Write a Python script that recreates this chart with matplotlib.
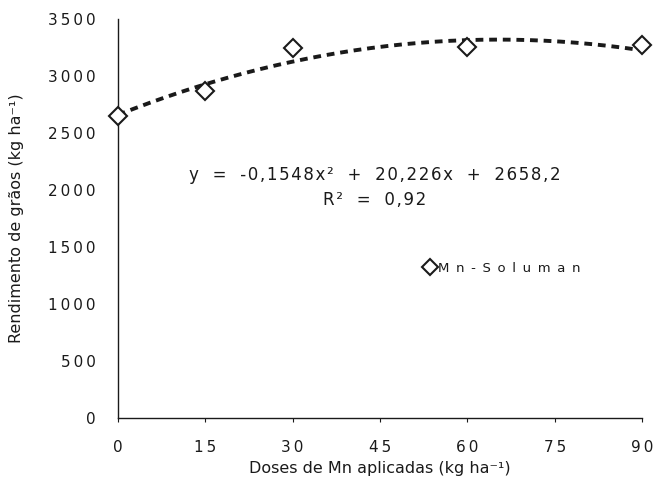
import numpy as np
import matplotlib.pyplot as plt

plt.rcParams['font.family'] = ['DejaVu Sans']

# Mn doses (kg/ha) and grain yield (kg/ha)
doses = [0, 15, 30, 60, 90]
rendimento = [2650, 2870, 3245, 3255, 3275]

# quadratic fit coefficients
a, b, c = -0.1548, 20.226, 2658.2

x_ticks = [0, 15, 30, 45, 60, 75, 90]
y_ticks = [0, 500, 1000, 1500, 2000, 2500, 3000, 3500]

ink = '#1a1a1a'


def spaced(s, gap='\u200a'):
    # loose letter spacing like the printed figure
    return gap.join(s)


fig = plt.figure(figsize=(6.58, 4.86), dpi=100)
ax = fig.add_axes([0.179, 0.140, 0.797, 0.821])

xf = np.linspace(0, 90, 200)
ax.plot(xf, a * xf**2 + b * xf + c, color=ink, lw=2.8, ls=(0, (2.0, 1.5)),
        zorder=2, clip_on=False)
ax.plot(doses, rendimento, ls='none', marker='D', ms=9, mfc='white',
        mec=ink, mew=1.5, clip_on=False, zorder=3, label='Mn-Soluman')

ax.set_xlim(0, 90)
ax.set_ylim(0, 3500)
ax.set_xticks(x_ticks)
ax.set_xticklabels([spaced(str(v), '\u2009') for v in x_ticks])
ax.set_yticks(y_ticks)
ax.set_yticklabels([spaced(str(v), '\u2009') for v in y_ticks])
ax.tick_params(axis='y', length=0, pad=16, labelsize=11, colors=ink)
ax.tick_params(axis='x', direction='out', length=3, width=0.8, pad=13,
               labelsize=11, colors=ink)

for side in ['top', 'right']:
    ax.spines[side].set_visible(False)
for side in ['left', 'bottom']:
    ax.spines[side].set_color(ink)
    ax.spines[side].set_linewidth(1.0)

ax.set_xlabel('Doses de Mn aplicadas (kg ha\u207b\u00b9)', fontsize=11.5,
              color=ink, labelpad=4)
ax.set_ylabel('Rendimento de grãos (kg ha\u207b\u00b9)', fontsize=11.5,
              color=ink, labelpad=17)

ax.text(0.49, 0.61, spaced('y = -0,1548x\u00b2 + 20,226x + 2658,2').replace(' ', '  '),
        transform=ax.transAxes, ha='center', va='center', fontsize=12,
        color=ink)
ax.text(0.49, 0.547, spaced('R\u00b2 = 0,92').replace(' ', '  '),
        transform=ax.transAxes, ha='center', va='center', fontsize=12,
        color=ink)

leg = ax.legend(loc='center left', bbox_to_anchor=(0.575, 0.375), frameon=False,
                handlelength=0.8, handletextpad=0.2, fontsize=9.5,
                borderaxespad=0)
for t in leg.get_texts():
    t.set_text(spaced('Mn-Soluman', '\u2002'))
    t.set_color(ink)
leg.legend_handles[0].set_markersize(8)

fig.savefig('out.png', dpi=100)
